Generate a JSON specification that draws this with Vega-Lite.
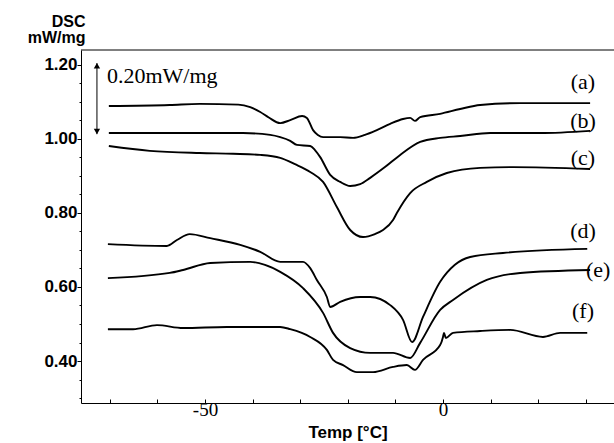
{
  "$schema": "https://vega.github.io/schema/vega-lite/v6.json",
  "width": 533,
  "height": 353,
  "autosize": {"type": "none"},
  "padding": {"left": 81, "top": 50, "right": 0, "bottom": 40},
  "background": "white",
  "config": {"view": {"stroke": null}},
  "datasets": {
    "curves": [
      {"s": "a", "t": -70.2, "v": 1.089}, {"s": "a", "t": -57.4, "v": 1.092}, {"s": "a", "t": -51.1, "v": 1.095}, {"s": "a", "t": -43.0, "v": 1.093}, {"s": "a", "t": -40.5, "v": 1.086}, {"s": "a", "t": -38.4, "v": 1.073}, {"s": "a", "t": -36.6, "v": 1.058}, {"s": "a", "t": -34.2, "v": 1.043}, {"s": "a", "t": -32.1, "v": 1.051}, {"s": "a", "t": -29.6, "v": 1.062}, {"s": "a", "t": -28.6, "v": 1.057}, {"s": "a", "t": -27.3, "v": 1.024}, {"s": "a", "t": -26.3, "v": 1.011}, {"s": "a", "t": -25.2, "v": 1.005}, {"s": "a", "t": -21.6, "v": 1.005}, {"s": "a", "t": -18.9, "v": 1.003}, {"s": "a", "t": -16.4, "v": 1.011}, {"s": "a", "t": -13.9, "v": 1.024}, {"s": "a", "t": -11.1, "v": 1.041}, {"s": "a", "t": -8.4, "v": 1.054}, {"s": "a", "t": -6.9, "v": 1.057}, {"s": "a", "t": -5.9, "v": 1.049}, {"s": "a", "t": -4.8, "v": 1.059}, {"s": "a", "t": -0.6, "v": 1.068}, {"s": "a", "t": 3.6, "v": 1.081}, {"s": "a", "t": 7.8, "v": 1.092}, {"s": "a", "t": 16.2, "v": 1.097}, {"s": "a", "t": 30.9, "v": 1.097},
      {"s": "b", "t": -70.2, "v": 1.016}, {"s": "b", "t": -51.1, "v": 1.016}, {"s": "b", "t": -42.0, "v": 1.016}, {"s": "b", "t": -36.3, "v": 1.011}, {"s": "b", "t": -34.2, "v": 1.005}, {"s": "b", "t": -32.1, "v": 0.995}, {"s": "b", "t": -30.7, "v": 0.984}, {"s": "b", "t": -27.9, "v": 0.981}, {"s": "b", "t": -26.9, "v": 0.970}, {"s": "b", "t": -25.8, "v": 0.951}, {"s": "b", "t": -23.7, "v": 0.903}, {"s": "b", "t": -21.6, "v": 0.884}, {"s": "b", "t": -19.5, "v": 0.873}, {"s": "b", "t": -17.4, "v": 0.878}, {"s": "b", "t": -15.3, "v": 0.895}, {"s": "b", "t": -12.2, "v": 0.924}, {"s": "b", "t": -9.0, "v": 0.957}, {"s": "b", "t": -4.8, "v": 0.992}, {"s": "b", "t": -0.6, "v": 1.003}, {"s": "b", "t": 3.6, "v": 1.008}, {"s": "b", "t": 9.9, "v": 1.016}, {"s": "b", "t": 20.4, "v": 1.016}, {"s": "b", "t": 30.9, "v": 1.022},
      {"s": "c", "t": -70.2, "v": 0.981}, {"s": "c", "t": -61.6, "v": 0.968}, {"s": "c", "t": -51.1, "v": 0.962}, {"s": "c", "t": -44.1, "v": 0.960}, {"s": "c", "t": -38.4, "v": 0.957}, {"s": "c", "t": -34.2, "v": 0.949}, {"s": "c", "t": -31.1, "v": 0.932}, {"s": "c", "t": -27.9, "v": 0.911}, {"s": "c", "t": -25.2, "v": 0.884}, {"s": "c", "t": -22.3, "v": 0.816}, {"s": "c", "t": -19.5, "v": 0.754}, {"s": "c", "t": -16.8, "v": 0.735}, {"s": "c", "t": -14.3, "v": 0.743}, {"s": "c", "t": -12.6, "v": 0.754}, {"s": "c", "t": -10.5, "v": 0.781}, {"s": "c", "t": -9.7, "v": 0.800}, {"s": "c", "t": -6.9, "v": 0.854}, {"s": "c", "t": -3.4, "v": 0.884}, {"s": "c", "t": 0.8, "v": 0.908}, {"s": "c", "t": 7.8, "v": 0.922}, {"s": "c", "t": 14.7, "v": 0.924}, {"s": "c", "t": 30.9, "v": 0.919},
      {"s": "d", "t": -70.4, "v": 0.716}, {"s": "d", "t": -58.0, "v": 0.711}, {"s": "d", "t": -55.9, "v": 0.727}, {"s": "d", "t": -53.2, "v": 0.743}, {"s": "d", "t": -48.9, "v": 0.732}, {"s": "d", "t": -42.6, "v": 0.714}, {"s": "d", "t": -38.4, "v": 0.695}, {"s": "d", "t": -34.2, "v": 0.668}, {"s": "d", "t": -32.1, "v": 0.668}, {"s": "d", "t": -29.4, "v": 0.668}, {"s": "d", "t": -27.9, "v": 0.651}, {"s": "d", "t": -26.5, "v": 0.619}, {"s": "d", "t": -24.4, "v": 0.573}, {"s": "d", "t": -23.7, "v": 0.546}, {"s": "d", "t": -21.6, "v": 0.560}, {"s": "d", "t": -17.4, "v": 0.573}, {"s": "d", "t": -15.3, "v": 0.573}, {"s": "d", "t": -11.1, "v": 0.551}, {"s": "d", "t": -8.4, "v": 0.511}, {"s": "d", "t": -6.5, "v": 0.451}, {"s": "d", "t": -4.2, "v": 0.519}, {"s": "d", "t": -0.6, "v": 0.614}, {"s": "d", "t": 2.5, "v": 0.660}, {"s": "d", "t": 5.7, "v": 0.681}, {"s": "d", "t": 12.6, "v": 0.692}, {"s": "d", "t": 30.3, "v": 0.703},
      {"s": "e", "t": -70.4, "v": 0.624}, {"s": "e", "t": -57.4, "v": 0.638}, {"s": "e", "t": -54.6, "v": 0.646}, {"s": "e", "t": -48.9, "v": 0.665}, {"s": "e", "t": -40.5, "v": 0.668}, {"s": "e", "t": -37.4, "v": 0.660}, {"s": "e", "t": -34.2, "v": 0.641}, {"s": "e", "t": -29.4, "v": 0.597}, {"s": "e", "t": -25.2, "v": 0.530}, {"s": "e", "t": -23.1, "v": 0.476}, {"s": "e", "t": -19.5, "v": 0.435}, {"s": "e", "t": -15.3, "v": 0.422}, {"s": "e", "t": -10.5, "v": 0.422}, {"s": "e", "t": -6.9, "v": 0.408}, {"s": "e", "t": -4.8, "v": 0.449}, {"s": "e", "t": -0.6, "v": 0.538}, {"s": "e", "t": 2.1, "v": 0.565}, {"s": "e", "t": 9.2, "v": 0.619}, {"s": "e", "t": 16.2, "v": 0.638}, {"s": "e", "t": 30.9, "v": 0.646},
      {"s": "f", "t": -70.4, "v": 0.486}, {"s": "f", "t": -65.1, "v": 0.486}, {"s": "f", "t": -60.1, "v": 0.497}, {"s": "f", "t": -54.6, "v": 0.489}, {"s": "f", "t": -45.4, "v": 0.492}, {"s": "f", "t": -34.2, "v": 0.492}, {"s": "f", "t": -32.1, "v": 0.486}, {"s": "f", "t": -27.9, "v": 0.465}, {"s": "f", "t": -24.4, "v": 0.430}, {"s": "f", "t": -23.1, "v": 0.403}, {"s": "f", "t": -21.0, "v": 0.389}, {"s": "f", "t": -18.1, "v": 0.370}, {"s": "f", "t": -14.7, "v": 0.370}, {"s": "f", "t": -10.5, "v": 0.384}, {"s": "f", "t": -7.6, "v": 0.389}, {"s": "f", "t": -5.9, "v": 0.376}, {"s": "f", "t": -4.2, "v": 0.403}, {"s": "f", "t": -0.6, "v": 0.443}, {"s": "f", "t": 0.0, "v": 0.465}, {"s": "f", "t": 0.2, "v": 0.476}, {"s": "f", "t": 0.6, "v": 0.462}, {"s": "f", "t": 2.1, "v": 0.476}, {"s": "f", "t": 7.8, "v": 0.481}, {"s": "f", "t": 14.1, "v": 0.484}, {"s": "f", "t": 21.0, "v": 0.465}, {"s": "f", "t": 24.6, "v": 0.476}, {"s": "f", "t": 30.3, "v": 0.476}
    ],
    "labels": [
      {"t": 29.4, "v": 1.154, "label": "(a)"},
      {"t": 29.4, "v": 1.049, "label": "(b)"},
      {"t": 29.4, "v": 0.949, "label": "(c)"},
      {"t": 29.4, "v": 0.751, "label": "(d)"},
      {"t": 32.6, "v": 0.646, "label": "(e)"},
      {"t": 29.4, "v": 0.535, "label": "(f)"}
    ],
    "note": [{"t": -70.6, "v": 1.170, "label": "0.20mW/mg"}],
    "arrow": [{"t": -72.7, "top": 1.205, "bottom": 1.013}],
    "heads": [
      {"t": -72.7, "v": 1.198, "end": "top"},
      {"t": -72.7, "v": 1.020, "end": "bottom"}
    ]
  },
  "resolve": {"axis": {"y": "independent"}},
  "layer": [
    {
      "data": {"name": "curves"},
      "mark": {"type": "line", "interpolate": "monotone", "color": "black", "strokeWidth": 1.9},
      "encoding": {
        "x": {
          "field": "t", "type": "quantitative",
          "scale": {"domain": [-76.05, 35.92], "nice": false, "zero": false},
          "axis": {
            "values": [-70, -60, -50, -40, -30, -20, -10, 0, 10, 20, 30],
            "labelExpr": "datum.value == -50 ? '-50' : (datum.value == 0 ? '0' : '')",
            "title": "Temp [°C]",
            "titleFont": "Liberation Sans", "titleFontWeight": "bold", "titleFontSize": 17, "titlePadding": 5,
            "labelFont": "Liberation Serif", "labelFontSize": 19, "labelColor": "black", "labelPadding": 1,
            "labelFlush": false, "labelOverlap": false,
            "tickSize": -4, "tickColor": "black", "domainColor": "black", "domainWidth": 1, "grid": false, "titleColor": "black"
          }
        },
        "y": {
          "field": "v", "type": "quantitative",
          "scale": {"domain": [0.2865, 1.2405], "nice": false, "zero": false},
          "axis": {
            "orient": "left",
            "values": [0.4, 0.6, 0.8, 1.0, 1.2],
            "format": ".2f",
            "tickSize": 4,
            "labelFont": "Liberation Sans", "labelFontWeight": "bold", "labelFontSize": 17, "labelColor": "black", "labelPadding": 0,
            "labelFlush": false, "labelOverlap": false,
            "tickColor": "black", "domainColor": "black", "grid": false,
            "title": ["DSC", "mW/mg"], "titleAngle": 0, "titleAlign": "right", "titleBaseline": "top",
            "titleX": 4, "titleY": -37, "titleLineHeight": 16,
            "titleFont": "Liberation Sans", "titleFontWeight": "bold", "titleFontSize": 16, "titleColor": "black"
          }
        },
        "detail": {"field": "s"}
      }
    },
    {
      "data": {"name": "labels"},
      "mark": {"type": "text", "font": "Liberation Serif", "fontSize": 22, "color": "black", "align": "center", "baseline": "middle"},
      "encoding": {
        "x": {"field": "t", "type": "quantitative"},
        "y": {"field": "v", "type": "quantitative", "axis": null},
        "text": {"field": "label"}
      }
    },
    {
      "data": {"name": "note"},
      "mark": {"type": "text", "font": "Liberation Serif", "fontSize": 22, "color": "black", "align": "left", "baseline": "middle"},
      "encoding": {
        "x": {"field": "t", "type": "quantitative"},
        "y": {"field": "v", "type": "quantitative", "axis": null},
        "text": {"field": "label"}
      }
    },
    {
      "data": {"name": "arrow"},
      "mark": {"type": "rule", "color": "black", "strokeWidth": 1},
      "encoding": {
        "x": {"field": "t", "type": "quantitative"},
        "y": {"field": "top", "type": "quantitative", "axis": null},
        "y2": {"field": "bottom"}
      }
    },
    {
      "data": {"name": "heads"},
      "mark": {"type": "point", "filled": true, "color": "black", "size": 40, "opacity": 1},
      "encoding": {
        "x": {"field": "t", "type": "quantitative"},
        "y": {"field": "v", "type": "quantitative", "axis": null},
        "shape": {"field": "end", "type": "nominal", "scale": {"domain": ["top", "bottom"], "range": ["triangle-up", "triangle-down"]}, "legend": null}
      }
    },
    {
      "data": {"values": [{}]},
      "mark": {"type": "rule", "color": "black", "strokeWidth": 1},
      "encoding": {
        "y": {
          "datum": 1.2405,
          "axis": {
            "orient": "left",
            "values": [0.30, 0.35, 0.45, 0.50, 0.55, 0.65, 0.70, 0.75, 0.85, 0.90, 0.95, 1.05, 1.10, 1.15],
            "labels": false, "domain": false, "tickSize": 2, "tickColor": "black", "grid": false, "title": null
          }
        }
      }
    }
  ]
}
